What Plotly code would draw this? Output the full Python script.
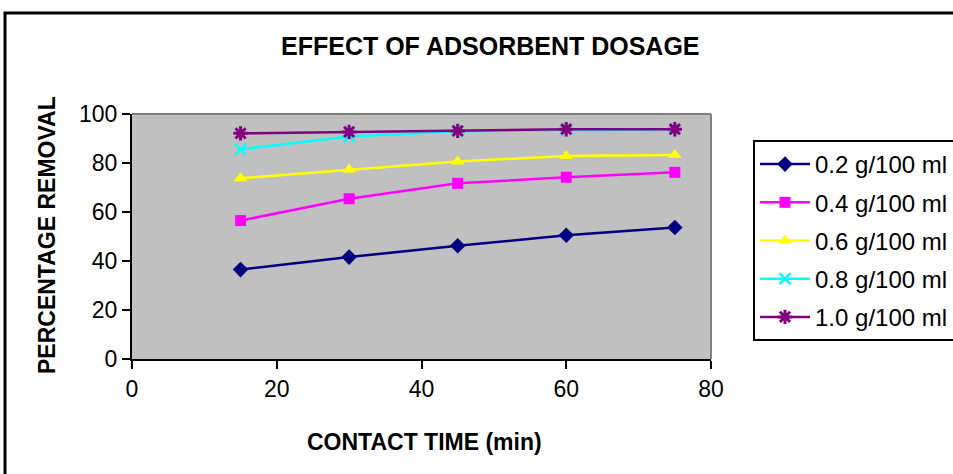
import plotly.graph_objects as go

time_min = [15, 30, 45, 60, 75]
series_names = ["0.2 g/100 ml", "0.4 g/100 ml", "0.6 g/100 ml", "0.8 g/100 ml", "1.0 g/100 ml"]
removal_02 = [36.5, 41.6, 46.2, 50.5, 53.7]
removal_04 = [56.5, 65.4, 71.7, 74.2, 76.2]
removal_06 = [73.8, 77.3, 80.6, 82.9, 83.3]
removal_08 = [85.6, 90.8, 93.0, 93.5, 93.8]
removal_10 = [92.1, 92.7, 93.1, 93.8, 93.8]

FONT = "Liberation Sans, Arial, sans-serif"

styles = [
    dict(color="#000080", symbol="diamond", size=12, lw=0),
    dict(color="#FF00FF", symbol="square", size=11, lw=0),
    dict(color="#FFFF00", symbol="triangle-up", size=12, lw=0),
    dict(color="#00FFFF", symbol="x-thin-open", size=11, lw=2.5),
    dict(color="#800080", symbol="asterisk-open", size=12, lw=3),
]
all_values = [removal_02, removal_04, removal_06, removal_08, removal_10]

fig = go.Figure()
for i, (name, vals, st) in enumerate(zip(series_names, all_values, styles)):
    fig.add_trace(go.Scatter(
        x=time_min, y=vals, name=name, mode="lines+markers",
        line=dict(color=st["color"], width=2.5),
        marker=dict(symbol=st["symbol"], size=st["size"], color=st["color"],
                    line=dict(color=st["color"], width=st["lw"])),
        legendgroup=f"g{i}",
    ))

L, R, T, B = 132, 242, 114, 115
W, H = 953, 474
pw, ph = W - L - R, H - T - B

def px2x(px):
    return (px - L) / pw

def px2y(py):
    return (H - B - py) / ph

fig.update_layout(
    width=W, height=H,
    margin=dict(l=L, r=R, t=T, b=B, autoexpand=False),
    paper_bgcolor="white",
    plot_bgcolor="#C0C0C0",
    font=dict(family=FONT, size=23, color="black"),
    showlegend=True,
    legend=dict(
        x=px2x(753), y=px2y(140), xanchor="left", yanchor="top",
        bgcolor="white", bordercolor="black", borderwidth=2,
        font=dict(family=FONT, size=24, color="black"),
        tracegroupgap=4, itemwidth=50,
    ),
    xaxis=dict(
        range=[0, 80], tickvals=[0, 20, 40, 60, 80], showgrid=False, zeroline=False,
        showline=True, linecolor="black", linewidth=2, ticks="outside", ticklen=8,
        tickcolor="black", tickwidth=2, tickfont=dict(size=23),
    ),
    yaxis=dict(
        range=[0, 100], tickvals=[0, 20, 40, 60, 80, 100], showgrid=False, zeroline=False,
        showline=True, linecolor="black", linewidth=2, ticks="outside", ticklen=8,
        tickcolor="black", tickwidth=2, tickfont=dict(size=23),
    ),
    shapes=[
        dict(type="rect", xref="paper", yref="paper",
             x0=px2x(5), x1=px2x(975), y0=px2y(495), y1=px2y(13),
             line=dict(color="black", width=3), layer="below"),
        dict(type="line", xref="paper", yref="paper", x0=0, x1=1, y0=1, y1=1,
             line=dict(color="#808080", width=2)),
        dict(type="line", xref="paper", yref="paper", x0=1, x1=1, y0=0, y1=1,
             line=dict(color="#808080", width=2)),
    ],
    annotations=[
        dict(text="<b>EFFECT OF ADSORBENT DOSAGE</b>", xref="paper", yref="paper",
             x=px2x(490), y=px2y(46), showarrow=False, font=dict(size=25),
             xanchor="center", yanchor="middle"),
        dict(text="<b>CONTACT TIME (min)</b>", xref="paper", yref="paper",
             x=px2x(425), y=px2y(442), showarrow=False, font=dict(size=23),
             xanchor="center", yanchor="middle"),
        dict(text="<b>PERCENTAGE REMOVAL</b>", xref="paper", yref="paper",
             x=px2x(47), y=px2y(235), showarrow=False, font=dict(size=23),
             textangle=-90, xanchor="center", yanchor="middle"),
    ],
)

fig.write_html("out.html")
